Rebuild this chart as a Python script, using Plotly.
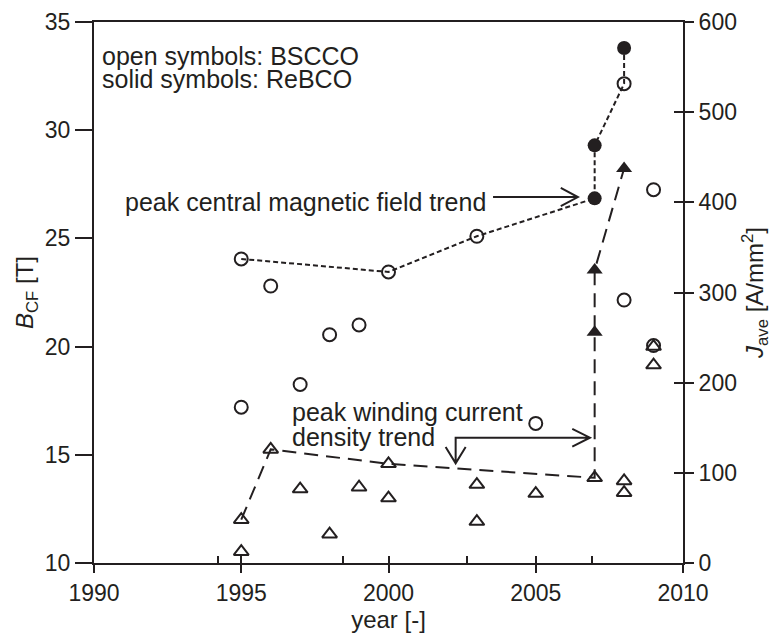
import plotly.graph_objects as go

# ---------------- data ----------------
bscco_B_year = [1995, 1995, 1996, 1997, 1998, 1999, 2000, 2003, 2005, 2008, 2008, 2009, 2009]
bscco_B = [24.05, 17.2, 22.8, 18.25, 20.55, 21.0, 23.45, 25.1, 16.45, 32.15, 22.15, 27.25, 20.05]

rebco_B_year = [2007, 2007, 2008]
rebco_B = [26.85, 29.3, 33.8]

bscco_J_year = [1995, 1995, 1996, 1997, 1998, 1999, 2000, 2000, 2003, 2003, 2005, 2007, 2008, 2008, 2009, 2009]
bscco_J = [48, 12.5, 126, 82, 32, 84, 110, 72, 87, 46, 77, 94.5, 91, 78, 240, 219.5]

rebco_J_year = [2007, 2007, 2008]
rebco_J = [256, 325, 437.5]

trend_B_year = [1995, 2000, 2003, 2007, 2007, 2008, 2008]
trend_B = [24.05, 23.45, 25.1, 26.85, 29.3, 32.15, 33.8]

trend_J_year = [1995, 1996, 2000, 2007, 2007, 2007, 2008]
trend_J = [48, 126, 110, 94.5, 256, 325, 437.5]

x_ticks = [1990, 1995, 2000, 2005, 2010]
x_minor_ticks = [1994.2, 1998.45, 2002.65, 2006.9]
y_left_ticks = [10, 15, 20, 25, 30, 35]
y_right_ticks = [0, 100, 200, 300, 400, 500, 600]

INK = "#231f20"
FONT = "Arial, Liberation Sans, sans-serif"

fig = go.Figure()

fig.add_trace(go.Scatter(x=trend_B_year, y=trend_B, mode="lines",
                         line=dict(color=INK, width=2, dash="5px,3px"),
                         showlegend=False, hoverinfo="skip"))
fig.add_trace(go.Scatter(x=trend_J_year, y=trend_J, mode="lines", yaxis="y2",
                         line=dict(color=INK, width=2, dash="14px,8px"),
                         showlegend=False, hoverinfo="skip"))

fig.add_trace(go.Scatter(x=bscco_B_year, y=bscco_B, mode="markers",
                         marker=dict(symbol="circle-open", size=13, color=INK,
                                     line=dict(width=2, color=INK)),
                         showlegend=False))
fig.add_trace(go.Scatter(x=rebco_B_year, y=rebco_B, mode="markers",
                         marker=dict(symbol="circle", size=14, color=INK,
                                     line=dict(width=0)),
                         showlegend=False))
fig.add_trace(go.Scatter(x=bscco_J_year, y=bscco_J, mode="markers", yaxis="y2",
                         marker=dict(symbol="triangle-up-open", size=13, color=INK,
                                     line=dict(width=2, color=INK)),
                         showlegend=False))
fig.add_trace(go.Scatter(x=rebco_J_year, y=rebco_J, mode="markers", yaxis="y2",
                         marker=dict(symbol="triangle-up", size=14, color=INK,
                                     line=dict(width=0)),
                         showlegend=False))

# empty traces so the overlay tick axes are drawn
fig.add_trace(go.Scatter(x=[None], y=[None], xaxis="x2", yaxis="y", showlegend=False,
                         hoverinfo="skip"))
fig.add_trace(go.Scatter(x=[None], y=[None], xaxis="x", yaxis="y3", showlegend=False,
                         hoverinfo="skip"))

# ---------------- arrows (open V heads) ----------------
arrow1_y = 26.91
arrow1_x0, arrow1_x1 = 2003.55, 2006.43
hx, hy = 0.58, 0.42
path1 = (f"M {arrow1_x0},{arrow1_y} L {arrow1_x1},{arrow1_y} "
         f"M {arrow1_x1-hx},{arrow1_y+hy} L {arrow1_x1},{arrow1_y} L {arrow1_x1-hx},{arrow1_y-hy}")

arrow2_y = 15.79
arrow2_x0, arrow2_x1 = 2002.28, 2006.84
arrow2_ybot = 14.61
dvx, dvy = 0.34, 0.75
path2 = (f"M {arrow2_x1},{arrow2_y} L {arrow2_x0},{arrow2_y} L {arrow2_x0},{arrow2_ybot} "
         f"M {arrow2_x0-dvx},{arrow2_ybot+dvy} L {arrow2_x0},{arrow2_ybot} L {arrow2_x0+dvx},{arrow2_ybot+dvy} "
         f"M {arrow2_x1-0.6},{arrow2_y+0.41} L {arrow2_x1},{arrow2_y} L {arrow2_x1-0.6},{arrow2_y-0.41}")

for p in (path1, path2):
    fig.add_shape(type="path", path=p, xref="x", yref="y",
                  line=dict(color=INK, width=2))

# ---------------- text ----------------
ann_font = dict(family=FONT, size=25, color=INK)
texts = [
    ("open symbols: BSCCO", 1990.2, 33.45),
    ("solid symbols: ReBCO", 1990.2, 32.35),
    ("peak central magnetic field trend", 1991.0, 26.7),
    ("peak winding current", 1996.65, 17.0),
    ("density trend", 1996.65, 15.8),
]
for t, x, y in texts:
    fig.add_annotation(text=t, x=x, y=y, xref="x", yref="y", xanchor="left",
                       yanchor="middle", showarrow=False, font=ann_font)

tick_font = dict(family=FONT, size=23, color=INK)
title_font = dict(family=FONT, size=24, color=INK)

# the page body adds an 8 px margin, so the figure is 8 px smaller and margins shifted
fig.update_layout(
    width=771, height=626, autosize=False,
    margin=dict(l=86, r=96, t=14, b=71),
    plot_bgcolor="white", paper_bgcolor="white",
    font=dict(family=FONT, color=INK),
    xaxis=dict(range=[1990, 2010], tickvals=x_ticks, ticks="outside", ticklen=8,
               tickwidth=2, tickcolor=INK, showline=True, linewidth=2, linecolor=INK,
               mirror=True, showgrid=False, zeroline=False, tickfont=tick_font,
               automargin=False,
               title=dict(text="year [-]", font=title_font, standoff=0)),
    xaxis2=dict(range=[1990, 2010], overlaying="x", anchor="y", side="bottom",
                tickvals=x_ticks + x_minor_ticks, ticks="inside", ticklen=7, tickwidth=2,
                tickcolor=INK, showticklabels=False, showline=False, showgrid=False,
                zeroline=False, automargin=False),
    yaxis=dict(range=[10, 35], tickvals=y_left_ticks, ticks="outside", ticklen=17,
               tickwidth=2, tickcolor=INK, showline=True, linewidth=2, linecolor=INK,
               showgrid=False, zeroline=False, tickfont=tick_font, automargin=False,
               title=dict(text="<i>B</i><sub>CF</sub> [T]", font=title_font, standoff=4)),
    yaxis2=dict(range=[0, 600], tickvals=y_right_ticks, overlaying="y", side="right",
                anchor="x", ticks="outside", ticklen=9, tickwidth=2, tickcolor=INK,
                showline=True, linewidth=2, linecolor=INK, showgrid=False, zeroline=False,
                tickfont=tick_font, automargin=False,
                title=dict(text="<i>J</i><sub>ave</sub> [A/mm<sup>2</sup>]",
                           font=title_font, standoff=10)),
    yaxis3=dict(range=[0, 600], tickvals=y_right_ticks, overlaying="y", side="right",
                anchor="x", ticks="inside", ticklen=9, tickwidth=2, tickcolor=INK,
                showticklabels=False, showline=False, showgrid=False, zeroline=False,
                automargin=False),
)

fig.write_html("out.html")
